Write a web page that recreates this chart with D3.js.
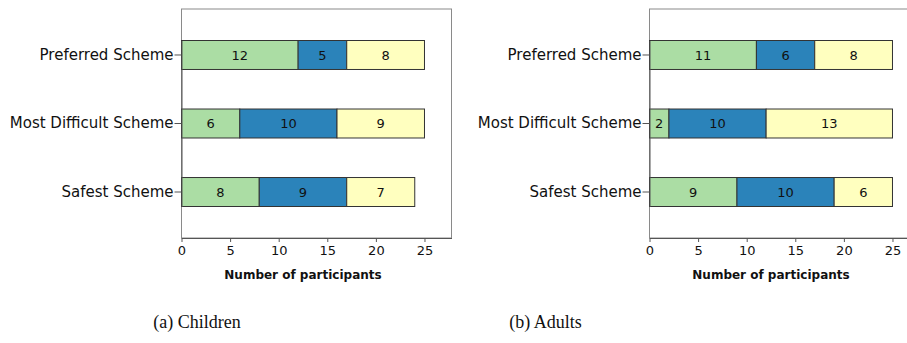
<!DOCTYPE html>
<html>
<head>
<meta charset="utf-8">
<script src="https://cdn.jsdelivr.net/npm/d3@7"></script>
<style>
  html, body { margin: 0; padding: 0; background: #fff; }
  svg { display: block; }
</style>
</head>
<body>
<svg id="chart" width="907" height="343"></svg>
<script>
// Questions asked (top to bottom)
const categories = ["Preferred Scheme", "Most Difficult Scheme", "Safest Scheme"];
// Stack segments, left to right
const segmentColors = ["#abdda4", "#2b83ba", "#ffffbf"];
// Participant counts per question: [green, blue, yellow]
const childrenValues = [[12, 5, 8], [6, 10, 9], [8, 9, 7]];
const adultsValues = [[11, 6, 8], [2, 10, 13], [9, 10, 6]];
const xTicks = [0, 5, 10, 15, 20, 25];
const xTitle = "Number of participants";
const captions = ["(a) Children", "(b) Adults"];

const svg = d3.select("#chart");
const sansFont = "'DejaVu Sans', Verdana, sans-serif";

function drawPanel(values, left, caption, captionX) {
  const top = 9, plotH = 229, plotW = 270;
  const g = svg.append("g").attr("transform", `translate(${left},${top})`);

  const x = d3.scaleLinear().domain([0, 27.78]).range([0, plotW]);
  const y = d3.scaleBand().domain(categories).range([31.5, 197.5])
    .paddingInner(0.577).paddingOuter(0);

  // plot frame
  g.append("rect").attr("x", 0).attr("y", 0).attr("width", plotW).attr("height", plotH)
    .attr("fill", "none").attr("stroke", "#8a8a8a").attr("stroke-width", 1);

  // stacked bars
  categories.forEach((cat, i) => {
    let acc = 0;
    values[i].forEach((v, j) => {
      const x0 = acc, x1 = acc + v;
      acc = x1;
      g.append("rect")
        .attr("x", x(x0)).attr("y", y(cat))
        .attr("width", x(x1) - x(x0)).attr("height", y.bandwidth())
        .attr("fill", segmentColors[j]).attr("stroke", "#333").attr("stroke-width", 1);
      g.append("text")
        .attr("x", (x(x0) + x(x1)) / 2).attr("y", y(cat) + y.bandwidth() / 2)
        .attr("dy", "0.36em").attr("text-anchor", "middle")
        .attr("font-family", sansFont).attr("font-size", 13).attr("fill", "#111")
        .text(v);
    });
  });

  // y axis
  const yAxis = g.append("g").call(d3.axisLeft(y).tickSize(7).tickSizeOuter(0).tickPadding(1));
  yAxis.select(".domain").attr("stroke", "#555");
  yAxis.selectAll(".tick line").attr("stroke", "#555");
  yAxis.selectAll("text").attr("font-family", sansFont).attr("font-size", 15).attr("fill", "#111");

  // x axis
  const xAxis = g.append("g").attr("transform", `translate(0,${plotH})`)
    .call(d3.axisBottom(x).tickValues(xTicks).tickSize(4).tickSizeOuter(0).tickPadding(4));
  xAxis.select(".domain").attr("stroke", "#555");
  xAxis.selectAll(".tick line").attr("stroke", "#555");
  xAxis.selectAll("text").attr("font-family", sansFont).attr("font-size", 13).attr("fill", "#111");

  g.append("text").attr("x", x(12.5)).attr("y", 270)
    .attr("text-anchor", "middle").attr("font-family", sansFont)
    .attr("font-size", 12).attr("font-weight", "bold").attr("fill", "#111")
    .text(xTitle);

  svg.append("text").attr("x", captionX).attr("y", 328)
    .attr("text-anchor", "middle").attr("font-family", "'Liberation Serif', 'Times New Roman', serif")
    .attr("font-size", 18).attr("fill", "#111").text(caption);
}

drawPanel(childrenValues, 181.5, captions[0], 197);
drawPanel(adultsValues, 649.5, captions[1], 545.5);
</script>
</body>
</html>
